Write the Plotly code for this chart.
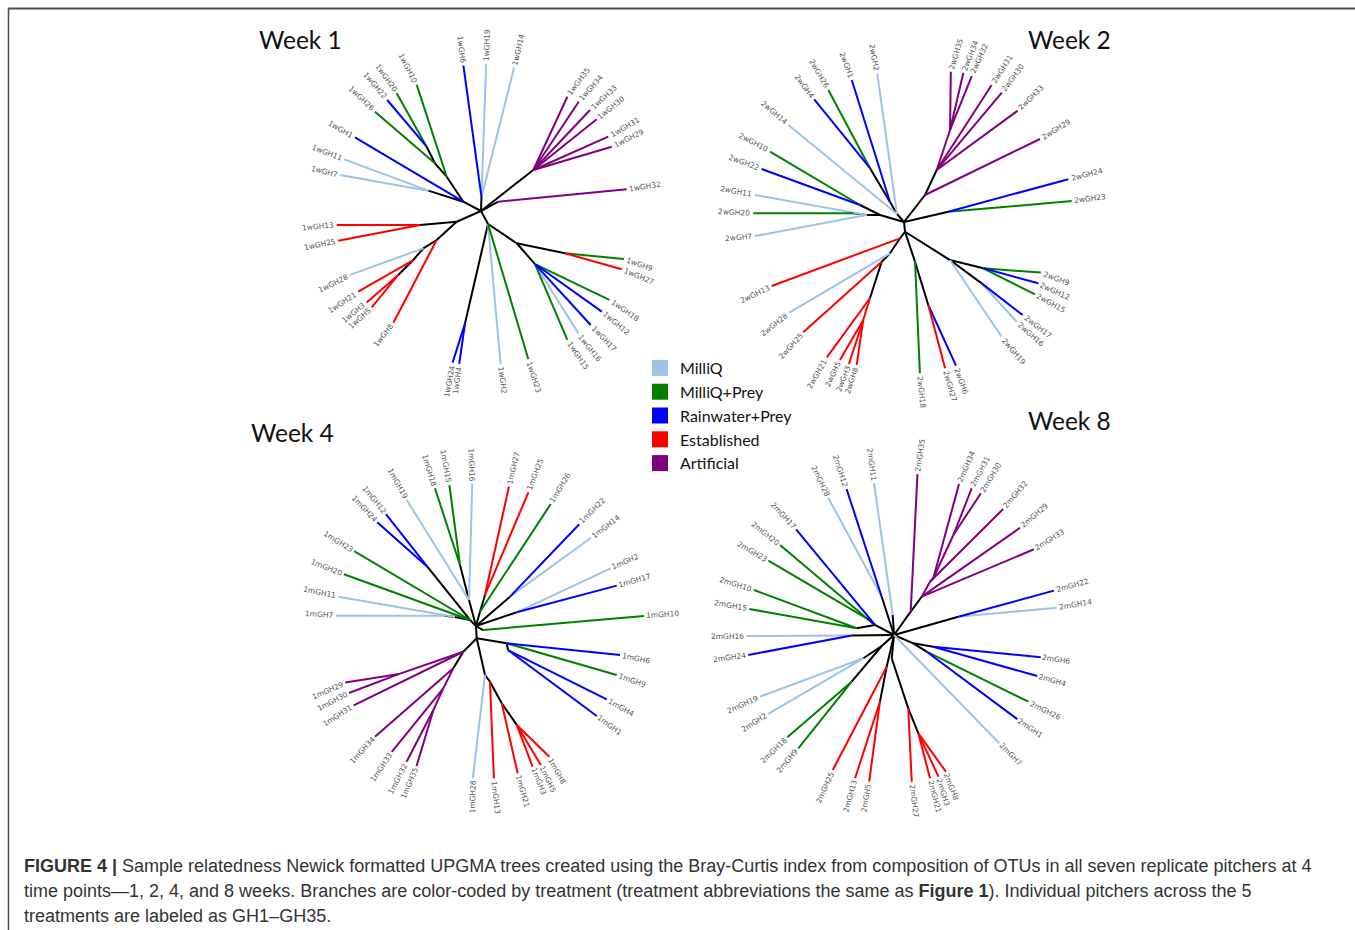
import math
import plotly.graph_objects as go

# ---------------- data ----------------
TREATMENTS = ["MilliQ", "MilliQ+Prey", "Rainwater+Prey", "Established", "Artificial"]
TREATMENT_CODES = ["Q", "QP", "RP", "E", "A"]
TREATMENT_COLORS = ["#9dc3e6", "#008000", "#0000ff", "#ff0000", "#800080"]

WEEK_TITLES = ["Week 1", "Week 2", "Week 4", "Week 8"]

# internal nodes: (id, parent, angle_deg, distance_from_root, coloured-clade code or "")
W1_NODES = [
    ("n0", None, 0, 0, ""),
    ("nL", "n0", 152.3, 20.0, ""),
    ("nLB", "nL", 158.9, 56.5, ""),
    ("nG", "nL", 135.0, 48.5, ""),
    ("nG2", "nG", 134.0, 66.3, ""),
    ("nG3", "nG2", 130.2, 84.2, ""),
    ("nT", "n0", 88.0, 14.0, ""),
    ("nP", "n0", 38.1, 66.5, ""),
    ("nE", "n0", 28.3, 19.6, ""),
    ("nR1", "n0", 203.8, 26.6, ""),
    ("nR2", "nR1", 192.9, 62.6, ""),
    ("nR3", "nR1", 213.2, 53.0, ""),
    ("nR4", "nR3", 212.9, 68.7, ""),
    ("nR5", "nR4", 215.9, 83.6, ""),
    ("nR6", "nR5", 217.7, 104.6, ""),
    ("nD", "n0", 298.3, 14.8, ""),
    ("nB", "nD", 261.9, 113.4, ""),
    ("nS", "nD", 317.9, 48.1, ""),
    ("nS1", "nS", 333.3, 94.0, ""),
    ("nS2", "nS", 315.5, 75.7, ""),
]
# leaves: (label, treatment code, parent, angle_deg, distance_from_root)
W1_LEAVES = [
    ("1wGH10", "QP", "nG", 117.0, 141.5),
    ("1wGH20", "QP", "nG3", 125.6, 144.8),
    ("1wGH22", "RP", "nG3", 130.2, 145.3),
    ("1wGH26", "QP", "nG2", 136.9, 145.2),
    ("1wGH1", "RP", "nL", 149.7, 146.0),
    ("1wGH11", "Q", "nLB", 159.3, 146.2),
    ("1wGH7", "Q", "nLB", 165.7, 145.5),
    ("1wGH6", "RP", "nT", 96.9, 146.4),
    ("1wGH19", "Q", "nT", 88.0, 146.8),
    ("1wGH14", "Q", "nT", 77.0, 147.0),
    ("1wGH35", "A", "nP", 52.9, 143.2),
    ("1wGH34", "A", "nP", 48.2, 146.6),
    ("1wGH33", "A", "nP", 42.8, 148.6),
    ("1wGH30", "A", "nP", 38.4, 147.6),
    ("1wGH31", "A", "nP", 30.3, 147.4),
    ("1wGH29", "A", "nP", 26.2, 145.7),
    ("1wGH32", "A", "nE", 8.5, 147.3),
    ("1wGH9", "QP", "nS1", -18.6, 150.8),
    ("1wGH27", "E", "nS1", -22.5, 152.3),
    ("1wGH18", "QP", "nS2", -34.7, 156.2),
    ("1wGH12", "RP", "nS2", -39.8, 157.2),
    ("1wGH17", "RP", "nS2", -46.1, 158.2),
    ("1wGH16", "Q", "nS2", -51.5, 156.3),
    ("1wGH15", "QP", "nS2", -56.2, 155.2),
    ("1wGH23", "QP", "nD", -72.3, 155.7),
    ("1wGH2", "Q", "nD", -82.7, 154.3),
    ("1wGH4", "RP", "nB", -98.1, 154.5),
    ("1wGH24", "RP", "nB", -100.6, 154.3),
    ("1wGH8", "E", "nR3", 231.9, 142.0),
    ("1wGH5", "E", "nR6", 221.4, 145.7),
    ("1wGH3", "E", "nR6", 218.7, 146.5),
    ("1wGH21", "E", "nR5", 213.3, 146.9),
    ("1wGH28", "Q", "nR4", 206.0, 145.8),
    ("1wGH25", "E", "nR2", 191.8, 145.8),
    ("1wGH13", "E", "nR2", 185.5, 145.0),
]

W2_NODES = [
    ("n0", None, 0, 0, ""),
    ("nA", "n0", 131.2, 10.6, ""),
    ("nA1", "nA", 125.0, 24.4, ""),
    ("nA2", "nA1", 122.3, 63.6, ""),
    ("nW", "n0", 163.7, 25.0, ""),
    ("nW1", "nW", 158.9, 47.2, ""),
    ("nW2", "nW", 169.4, 38.0, ""),
    ("nW3", "nW2", 170.3, 51.4, ""),
    ("nP0", "n0", 52.1, 34.2, ""),
    ("nP1", "nP0", 57.8, 61.4, ""),
    ("nP2", "nP1", 63.4, 102.9, "A"),
    ("nE", "n0", 13.1, 45.5, ""),
    ("nS0", "n0", 276.0, 9.8, ""),
    ("nSW", "nS0", 256.2, 16.8, ""),
    ("nSW1", "nSW", 245.9, 34.3, ""),
    ("nSW2", "nSW1", 240.7, 45.5, ""),
    ("nSW3", "nSW2", 245.9, 83.5, ""),
    ("nSW4", "nSW3", 247.4, 106.1, "E"),
    ("nS1a", "nS0", 285.5, 41.2, ""),
    ("nS1b", "nS1a", 286.3, 86.5, ""),
    ("nSE", "nS0", 320.4, 59.7, ""),
    ("nSE1", "nSE", 329.7, 91.8, ""),
    ("nSE2", "nSE", 321.7, 99.0, ""),
]
W2_LEAVES = [
    ("2wGH2", "Q", "nA", 100.2, 151.1),
    ("2wGH1", "RP", "nA1", 110.2, 151.3),
    ("2wGH26", "QP", "nA2", 119.8, 152.2),
    ("2wGH4", "RP", "nA2", 126.2, 152.0),
    ("2wGH14", "Q", "nA", 140.0, 151.0),
    ("2wGH10", "QP", "nW1", 152.3, 151.3),
    ("2wGH22", "RP", "nW1", 159.6, 151.9),
    ("2wGH11", "Q", "nW2", 169.7, 151.4),
    ("2wGH20", "QP", "nW3", 176.7, 151.0),
    ("2wGH7", "Q", "nW2", 185.4, 149.7),
    ("2wGH35", "A", "nP2", 72.7, 157.4),
    ("2wGH34", "A", "nP2", 68.3, 160.6),
    ("2wGH32", "A", "nP2", 65.1, 160.9),
    ("2wGH31", "A", "nP1", 57.4, 162.7),
    ("2wGH30", "A", "nP1", 52.9, 162.1),
    ("2wGH33", "A", "nP1", 44.4, 159.1),
    ("2wGH29", "A", "nP0", 31.4, 159.3),
    ("2wGH24", "RP", "nE", 14.6, 169.8),
    ("2wGH23", "QP", "nE", 7.1, 169.0),
    ("2wGH9", "QP", "nSE1", -20.3, 145.8),
    ("2wGH12", "RP", "nSE1", -24.5, 147.6),
    ("2wGH15", "QP", "nSE1", -28.9, 149.6),
    ("2wGH17", "RP", "nSE2", -38.1, 150.8),
    ("2wGH16", "Q", "nSE2", -41.5, 150.5),
    ("2wGH19", "Q", "nSE", -49.6, 150.7),
    ("2wGH6", "RP", "nS1b", -70.1, 152.8),
    ("2wGH27", "E", "nS1b", -74.3, 151.9),
    ("2wGH18", "QP", "nS1a", -84.0, 152.1),
    ("2wGH8", "E", "nSW4", 251.7, 150.6),
    ("2wGH3", "E", "nSW4", 248.8, 152.3),
    ("2wGH5", "E", "nSW4", 245.1, 152.1),
    ("2wGH21", "E", "nSW3", 240.3, 155.8),
    ("2wGH25", "E", "nSW2", 227.6, 149.4),
    ("2wGH28", "Q", "nSW1", 218.3, 146.2),
    ("2wGH13", "E", "nSW", 205.8, 147.0),
]

W4_NODES = [
    ("n0", None, 0, 0, ""),
    ("nW0", "n0", 135.0, 8.5, ""),
    ("nW1", "nW0", 156.8, 22.8, ""),
    ("nW2", "nW1", 161.6, 32.7, ""),
    ("nW3", "nW0", 129.4, 76.7, ""),
    ("nN0", "n0", 105.1, 26.9, ""),
    ("nN", "nN0", 104.7, 63.1, ""),
    ("nNE0", "n0", 74.4, 14.8, ""),
    ("nNE1", "nNE0", 73.8, 32.3, ""),
    ("nE1", "n0", 40.8, 44.9, ""),
    ("nE2", "n0", 18.6, 42.9, ""),
    ("nE3", "n0", -29.7, 8.1, ""),
    ("nSE0", "n0", -86.7, 12.3, ""),
    ("nSE1", "nSE0", -29.4, 35.2, ""),
    ("nSE2", "nSE1", -36.9, 40.0, ""),
    ("nP0", "nSE0", 243.7, 28.7, ""),
    ("nP1", "nP0", 212.0, 90.4, "A"),
    ("nP2", "nP0", 241.8, 48.0, ""),
    ("nP3", "nP2", 242.3, 70.4, "A"),
    ("nP4", "nP3", 243.1, 94.2, "A"),
    ("nS1", "nSE0", -79.6, 49.8, ""),
    ("nS2", "nS1", -75.9, 57.4, ""),
    ("nS3", "nS2", -71.6, 81.5, ""),
    ("nS4", "nS3", -67.6, 107.0, ""),
]
W4_LEAVES = [
    ("1mGH7", "Q", "nW2", 175.8, 140.4),
    ("1mGH11", "Q", "nW1", 168.0, 140.8),
    ("1mGH20", "QP", "nW0", 158.6, 141.8),
    ("1mGH23", "QP", "nW0", 148.4, 143.0),
    ("1mGH24", "RP", "nW3", 133.6, 143.2),
    ("1mGH12", "RP", "nW3", 128.8, 143.7),
    ("1mGH19", "Q", "nN0", 118.8, 143.8),
    ("1mGH18", "QP", "nN", 106.6, 143.7),
    ("1mGH15", "QP", "nN", 100.7, 143.5),
    ("1mGH16", "Q", "nN0", 91.5, 142.0),
    ("1mGH27", "E", "nNE1", 76.7, 143.2),
    ("1mGH25", "E", "nNE1", 68.6, 143.6),
    ("1mGH26", "QP", "nNE0", 58.5, 143.1),
    ("1mGH22", "RP", "nE1", 44.6, 145.0),
    ("1mGH14", "Q", "nE1", 37.5, 145.0),
    ("1mGH2", "Q", "nE2", 23.2, 146.5),
    ("1mGH17", "RP", "nE2", 16.0, 146.4),
    ("1mGH10", "QP", "nE3", 3.4, 168.3),
    ("1mGH6", "RP", "nSE1", -11.4, 146.9),
    ("1mGH9", "QP", "nSE1", -19.2, 149.0),
    ("1mGH4", "RP", "nSE2", -29.3, 149.9),
    ("1mGH1", "RP", "nSE2", -36.7, 150.6),
    ("1mGH8", "E", "nS4", -60.7, 149.9),
    ("1mGH5", "E", "nS4", -65.0, 153.3),
    ("1mGH3", "E", "nS4", -68.1, 151.7),
    ("1mGH21", "E", "nS3", -74.2, 153.1),
    ("1mGH13", "E", "nS2", -83.3, 153.4),
    ("1mGH28", "Q", "nS1", -91.2, 152.3),
    ("1mGH35", "A", "nP4", 247.0, 152.0),
    ("1mGH32", "A", "nP4", 242.9, 152.4),
    ("1mGH33", "A", "nP3", 236.2, 151.4),
    ("1mGH34", "A", "nP2", 227.6, 149.9),
    ("1mGH31", "A", "nP0", 213.0, 145.9),
    ("1mGH30", "A", "nP1", 207.8, 143.6),
    ("1mGH29", "A", "nP1", 203.4, 142.5),
]

W8_NODES = [
    ("n0", None, 0, 0, ""),
    ("nP0", "n0", 54.4, 28.7, ""),
    ("nP1", "nP0", 54.1, 47.3, ""),
    ("nP2", "nP1", 56.0, 64.3, "A"),
    ("nP3", "nP2", 55.3, 69.0, "A"),
    ("nP4", "nP3", 59.3, 116.3, "A"),
    ("nE", "n0", 15.9, 66.9, ""),
    ("nN0", "n0", 93.7, 20.0, ""),
    ("nN1", "n0", 107.8, 40.2, ""),
    ("nW0", "n0", 152.2, 21.5, ""),
    ("nW1", "nW0", 148.5, 32.0, ""),
    ("nW2", "nW0", 169.8, 37.9, ""),
    ("nW3", "n0", 180.7, 42.3, ""),
    ("nSWa", "n0", 221.8, 16.5, ""),
    ("nSW1", "nSWa", 217.2, 38.5, ""),
    ("nSW2", "nSWa", 227.8, 63.0, ""),
    ("nS1", "n0", 257.0, 32.5, ""),
    ("nS2", "nS1", 258.1, 68.2, ""),
    ("nS3", "n0", 264.4, 23.4, ""),
    ("nS4", "nS3", 281.0, 74.7, ""),
    ("nS5", "nS4", 283.9, 101.3, ""),
    ("nSE0", "n0", -23.3, 21.0, ""),
    ("nSE1", "nSE0", -16.6, 41.0, ""),
    ("nSE2", "nSE0", -27.1, 36.7, ""),
]
W8_LEAVES = [
    ("2mGH35", "A", "nP0", 81.7, 162.4),
    ("2mGH34", "A", "nP3", 66.7, 164.4),
    ("2mGH31", "A", "nP4", 62.1, 166.0),
    ("2mGH30", "A", "nP4", 58.5, 166.3),
    ("2mGH32", "A", "nP2", 49.1, 166.8),
    ("2mGH29", "A", "nP1", 40.4, 165.5),
    ("2mGH33", "A", "nP1", 31.5, 164.1),
    ("2mGH22", "RP", "nE", 15.5, 166.0),
    ("2mGH14", "Q", "nE", 9.5, 165.0),
    ("2mGH11", "Q", "nN0", 97.5, 153.0),
    ("2mGH12", "RP", "nN1", 108.0, 153.5),
    ("2mGH28", "Q", "nN1", 115.6, 152.2),
    ("2mGH17", "RP", "nW0", 132.8, 144.1),
    ("2mGH20", "QP", "nW1", 141.7, 145.2),
    ("2mGH23", "QP", "nW1", 149.4, 146.0),
    ("2mGH10", "QP", "nW2", 162.2, 147.1),
    ("2mGH15", "QP", "nW2", 169.8, 147.0),
    ("2mGH16", "Q", "nW3", 180.4, 147.3),
    ("2mGH24", "RP", "nW3", 187.8, 147.1),
    ("2mGH19", "Q", "nSW1", 204.7, 147.5),
    ("2mGH2", "Q", "nSW1", 212.1, 148.5),
    ("2mGH18", "QP", "nSW2", 223.8, 147.8),
    ("2mGH9", "QP", "nSW2", 229.8, 148.3),
    ("2mGH25", "E", "nS1", 245.6, 148.3),
    ("2mGH13", "E", "nS2", 254.8, 148.5),
    ("2mGH5", "E", "nS2", 260.4, 148.8),
    ("2mGH27", "E", "nS4", -83.1, 147.8),
    ("2mGH21", "E", "nS5", -75.9, 147.8),
    ("2mGH3", "E", "nS5", -72.6, 148.5),
    ("2mGH8", "E", "nS5", -69.2, 146.3),
    ("2mGH7", "Q", "n0", -45.8, 151.0),
    ("2mGH1", "RP", "nSE2", -34.3, 149.2),
    ("2mGH26", "QP", "nSE2", -26.4, 150.0),
    ("2mGH4", "RP", "nSE1", -16.0, 149.0),
    ("2mGH6", "RP", "nSE1", -8.6, 148.4),
]

CAPTION_LINES = [
    "<b>FIGURE 4 |</b> Sample relatedness Newick formatted UPGMA trees created using the Bray-Curtis index "
    "from composition of OTUs in all seven replicate pitchers at 4",
    "time points\u20141, 2, 4, and 8 weeks. Branches are color-coded by treatment (treatment abbreviations "
    "the same as <b>Figure 1</b>). Individual pitchers across the 5",
    "treatments are labeled as GH1\u2013GH35.",
]

# ---------------- layout constants ----------------
W, H = 1355, 930
TREE_ROOTS = [(481, 211), (904, 222), (476, 626), (894, 635)]   # pixel position of each tree's root
TITLE_POS = [(257, 39), (1026, 39), (249, 432), (1026, 420)]
TREES = [(W1_NODES, W1_LEAVES), (W2_NODES, W2_LEAVES), (W4_NODES, W4_LEAVES), (W8_NODES, W8_LEAVES)]

COLOR_OF = dict(zip(TREATMENT_CODES, TREATMENT_COLORS))
BLACK = "#000000"
LABEL_SIZE = 7.5
LABEL_FONT = "DejaVu Sans"
LABEL_COLOR = "#555555"
LINE_W = 2

fig = go.Figure()
annotations = []


def polar(ang, rad):
    a = math.radians(ang)
    return rad * math.cos(a), rad * math.sin(a)


for k, ((nodes, leaves), (cx, cy)) in enumerate(zip(TREES, TREE_ROOTS), start=1):
    sfx = "" if k == 1 else str(k)
    xa, ya = "x" + sfx, "y" + sfx
    pos = {nid: polar(ang, rad) for nid, _, ang, rad, _ in nodes}
    groups = {}
    for nid, parent, ang, rad, col in nodes:
        if parent is None:
            continue
        c = COLOR_OF[col] if col else BLACK
        groups.setdefault(c, []).append((pos[parent], pos[nid]))
    for lab, code, parent, ang, rad in leaves:
        groups.setdefault(COLOR_OF[code], []).append((pos[parent], polar(ang, rad)))
    order = [BLACK] + TREATMENT_COLORS
    for c in order:
        if c not in groups:
            continue
        xs, ys = [], []
        for (x0, y0), (x1, y1) in groups[c]:
            xs += [x0, x1, None]
            ys += [y0, y1, None]
        fig.add_trace(go.Scatter(x=xs, y=ys, mode="lines", line=dict(color=c, width=LINE_W),
                                 hoverinfo="skip", showlegend=False, xaxis=xa, yaxis=ya))
    # leaf labels, radial
    for lab, code, parent, ang, rad in leaves:
        w = len(lab) * 0.66 * LABEL_SIZE
        d = rad + 4 + w / 2
        lx, ly = polar(ang, d)
        a = ang % 360
        ta = -a if math.cos(math.radians(a)) >= 0 else 180 - a
        while ta > 180:
            ta -= 360
        while ta < -180:
            ta += 360
        annotations.append(dict(x=lx, y=ly, xref=xa, yref=ya, text=lab, showarrow=False,
                                textangle=ta, xanchor="center", yanchor="middle",
                                font=dict(family=LABEL_FONT, size=LABEL_SIZE, color=LABEL_COLOR)))
    axis_common = dict(visible=False, fixedrange=True, showgrid=False, zeroline=False)
    fig.update_layout(**{
        "xaxis" + sfx: dict(axis_common, domain=[0, 1], range=[-cx, W - cx], anchor=ya),
        "yaxis" + sfx: dict(axis_common, domain=[0, 1], range=[cy - H, cy], anchor=xa),
    })

# legend entries (square swatches)
for name, col in zip(TREATMENTS, TREATMENT_COLORS):
    fig.add_trace(go.Scatter(x=[None], y=[None], mode="markers", name=name,
                             marker=dict(symbol="square", size=19, color=col)))

# week titles
for t, (px, py) in zip(WEEK_TITLES, TITLE_POS):
    annotations.append(dict(x=px / W, y=1 - py / H, xref="paper", yref="paper", text=t, showarrow=False,
                            xanchor="left", yanchor="middle",
                            font=dict(family="Lato", size=24.5, color="#111111")))

# caption
for i, line in enumerate(CAPTION_LINES):
    annotations.append(dict(x=22 / W, y=1 - (866 + 25 * i) / H, xref="paper", yref="paper", text=line,
                            showarrow=False, xanchor="left", yanchor="middle", align="left",
                            font=dict(family="Liberation Sans", size=18, color="#333333")))

shapes = [
    dict(type="line", xref="paper", yref="paper", x0=8 / W, x1=1, y0=1 - 8.5 / H, y1=1 - 8.5 / H,
         line=dict(color="#4a4a4a", width=2)),
    dict(type="line", xref="paper", yref="paper", x0=8.5 / W, x1=8.5 / W, y0=0, y1=1 - 8 / H,
         line=dict(color="#4a4a4a", width=1.5)),
]

fig.update_layout(
    width=W, height=H, margin=dict(l=0, r=0, t=0, b=0, pad=0),
    paper_bgcolor="white", plot_bgcolor="rgba(0,0,0,0)",
    annotations=annotations, shapes=shapes,
    legend=dict(x=640 / W, y=1 - 351 / H, xanchor="left", yanchor="top",
                bgcolor="rgba(0,0,0,0)", borderwidth=0, itemclick=False, itemdoubleclick=False,
                font=dict(family="Lato", size=16, color="#111111"), itemsizing="trace"),
    showlegend=True,
)

fig.write_html("out.html", config={"displayModeBar": False},
               post_script="document.body.style.margin='0';document.body.style.overflow='hidden';")
